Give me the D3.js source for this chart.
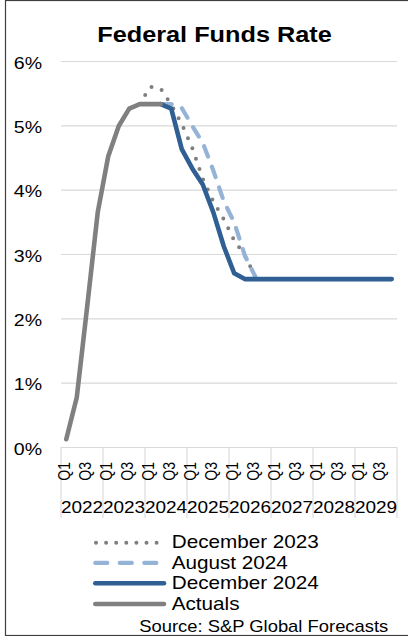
<!DOCTYPE html>
<html>
<head>
<meta charset="utf-8">
<script src="https://cdn.jsdelivr.net/npm/d3@7"></script>
<style>
  html, body { margin: 0; padding: 0; background: #ffffff; }
  svg { display: block; }
  text { font-family: "Liberation Sans", Arial, sans-serif; fill: #000; }
</style>
</head>
<body>
<svg id="chart" width="408" height="636"></svg>
<script>
// Calendar axis: years and quarters
const years = ["2022", "2023", "2024", "2025", "2026", "2027", "2028", "2029"];
const quarters = ["Q1", "Q2", "Q3", "Q4"];
const shownQuarterLabels = ["Q1", "Q3"];
const yTicks = [0, 1, 2, 3, 4, 5, 6];

// Federal funds rate (%) by quarter, 2022Q1 .. 2029Q4 (null = no value)
const actuals = [0.12, 0.77, 2.19, 3.65, 4.52, 4.99, 5.26, 5.33, 5.33, 5.33,
  null, null, null, null, null, null, null, null, null, null, null, null,
  null, null, null, null, null, null, null, null, null, null];
const forecastDec2023 = [null, null, null, null, null, null, 5.26, 5.33, 5.60, 5.57,
  5.32, 5.02, 4.65, 4.17, 3.82, 3.54, 3.21, 2.98, 2.65, null, null, null,
  null, null, null, null, null, null, null, null, null, null];
const forecastAug2024 = [null, null, null, null, null, null, null, null, null, 5.33,
  5.33, 5.27, 4.99, 4.73, 4.30, 3.82, 3.49, 2.98, 2.65, null, null, null,
  null, null, null, null, null, null, null, null, null, null];
const forecastDec2024 = [null, null, null, null, null, null, null, null, null, 5.33,
  5.26, 4.63, 4.33, 4.08, 3.65, 3.12, 2.70, 2.61, 2.61, 2.61, 2.61, 2.61,
  2.61, 2.61, 2.61, 2.61, 2.61, 2.61, 2.61, 2.61, 2.61, 2.61];

const seriesNames = ["December 2023", "August 2024", "December 2024", "Actuals"];

const categories = [];
years.forEach(yr => quarters.forEach(q => categories.push(yr + q)));

const series = [
  { name: seriesNames[0], values: forecastDec2023, color: "#7f7f7f", width: 4, dash: "0 11", legendDash: "0 10.1", cap: "round" },
  { name: seriesNames[1], values: forecastAug2024, color: "#95b3d7", width: 4.2, dash: "11 11", legendDash: "12 12.5", cap: "round" },
  { name: seriesNames[2], values: forecastDec2024, color: "#2f5f93", width: 4.6, dash: null, legendDash: null, cap: "round" },
  { name: seriesNames[3], values: actuals, color: "#808080", width: 4.6, dash: null, legendDash: null, cap: "round" }
];

const STRETCH = 1.15;
const svg = d3.select("#chart");

// Outer frame
svg.append("rect")
  .attr("x", 5.5).attr("y", 0.5)
  .attr("width", 420).attr("height", 635)
  .attr("fill", "none").attr("stroke", "#3f3f3f").attr("stroke-width", 1.2);

// Scales
const plotLeft = 61, plotRight = 397, plotTop = 61, plotBottom = 447;
const x = d3.scaleBand().domain(categories).range([plotLeft, plotRight]).paddingInner(0).paddingOuter(0);
const xYear = d3.scaleBand().domain(years).range([plotLeft, plotRight]);
const y = d3.scaleLinear().domain([0, 6]).range([plotBottom, plotTop]);

// Horizontally widened text helper
function wideText(parent, tx, ty, str, opts) {
  const t = parent.append("text")
    .attr("transform", `translate(${tx},${ty}) scale(${STRETCH},1)` + (opts.rotate ? ` rotate(${opts.rotate})` : ""))
    .attr("text-anchor", opts.anchor || "start")
    .style("font-size", opts.size + "px")
    .style("font-weight", opts.weight || "normal")
    .text(str);
  return t;
}

// Title
wideText(svg, 214.5, 41.7, "Federal Funds Rate", { size: 22, weight: "bold", anchor: "middle" });

// Value axis: gridlines and percent labels
const yAxis = d3.axisLeft(y)
  .tickValues(yTicks)
  .tickSize(-(plotRight - plotLeft))
  .tickPadding(0)
  .tickFormat(d => d + "%");
const yG = svg.append("g").attr("transform", `translate(${plotLeft},0)`).call(yAxis);
yG.select(".domain").remove();
yG.selectAll(".tick line").attr("stroke", "#d9d9d9").attr("stroke-width", 1.1);
yG.selectAll(".tick text")
  .attr("x", -19 / STRETCH)
  .attr("dy", 7.3)
  .attr("transform", `scale(${STRETCH},1)`)
  .attr("text-anchor", "end")
  .style("font-size", "17px")
  .style("font-family", "'Liberation Sans', Arial, sans-serif")
  .attr("fill", "#000");

// Category axis: year separators, quarter and year labels
const axisG = svg.append("g");
const sepPositions = years.map(yr => xYear(yr)).concat([plotRight]);
axisG.selectAll("line.sep").data(sepPositions).join("line")
  .attr("class", "sep")
  .attr("x1", d => d).attr("x2", d => d)
  .attr("y1", plotBottom).attr("y2", 518)
  .attr("stroke", "#d9d9d9").attr("stroke-width", 1.1);

categories.forEach((c, i) => {
  const q = quarters[i % 4];
  if (shownQuarterLabels.includes(q)) {
    const cx = x(c) + x.bandwidth() / 2;
    wideText(axisG, cx + 3.4, 462, q, { size: 14, anchor: "end", rotate: -90 });
  }
});
years.forEach(yr => {
  wideText(axisG, xYear(yr) + xYear.bandwidth() / 2, 513.3, yr, { size: 16.5, anchor: "middle" });
});

// Series lines
const line = d3.line()
  .defined(d => d.v !== null)
  .x(d => x(d.c) + x.bandwidth() / 2)
  .y(d => y(d.v))
  .curve(d3.curveLinear);

svg.append("g").selectAll("path").data(series).join("path")
  .attr("d", s => line(categories.map((c, i) => ({ c, v: s.values[i] }))))
  .attr("fill", "none")
  .attr("stroke", s => s.color)
  .attr("stroke-width", s => s.width)
  .attr("stroke-linecap", s => s.cap)
  .attr("stroke-linejoin", "round")
  .attr("stroke-dasharray", s => s.dash);

// Legend
const legendG = svg.append("g");
const legendRows = [542.7, 562.9, 583.3, 604];
series.forEach((s, i) => {
  const ly = legendRows[i];
  let x1 = 95.3, x2 = 164;
  if (s.legendDash === "0 10.1") { x1 = 96; x2 = 157; }
  if (s.legendDash === "12 12.5") { x1 = 95.3; x2 = 160; }
  legendG.append("line")
    .attr("x1", x1).attr("x2", x2).attr("y1", ly).attr("y2", ly)
    .attr("stroke", s.color)
    .attr("stroke-width", s.width)
    .attr("stroke-linecap", "round")
    .attr("stroke-dasharray", s.legendDash);
  wideText(legendG, 171.7, ly + 5.7, s.name, { size: 18 });
});

// Source note
wideText(svg, 388.3, 631.7, "Source: S&P Global Forecasts", { size: 16, anchor: "end" });
</script>
</body>
</html>
